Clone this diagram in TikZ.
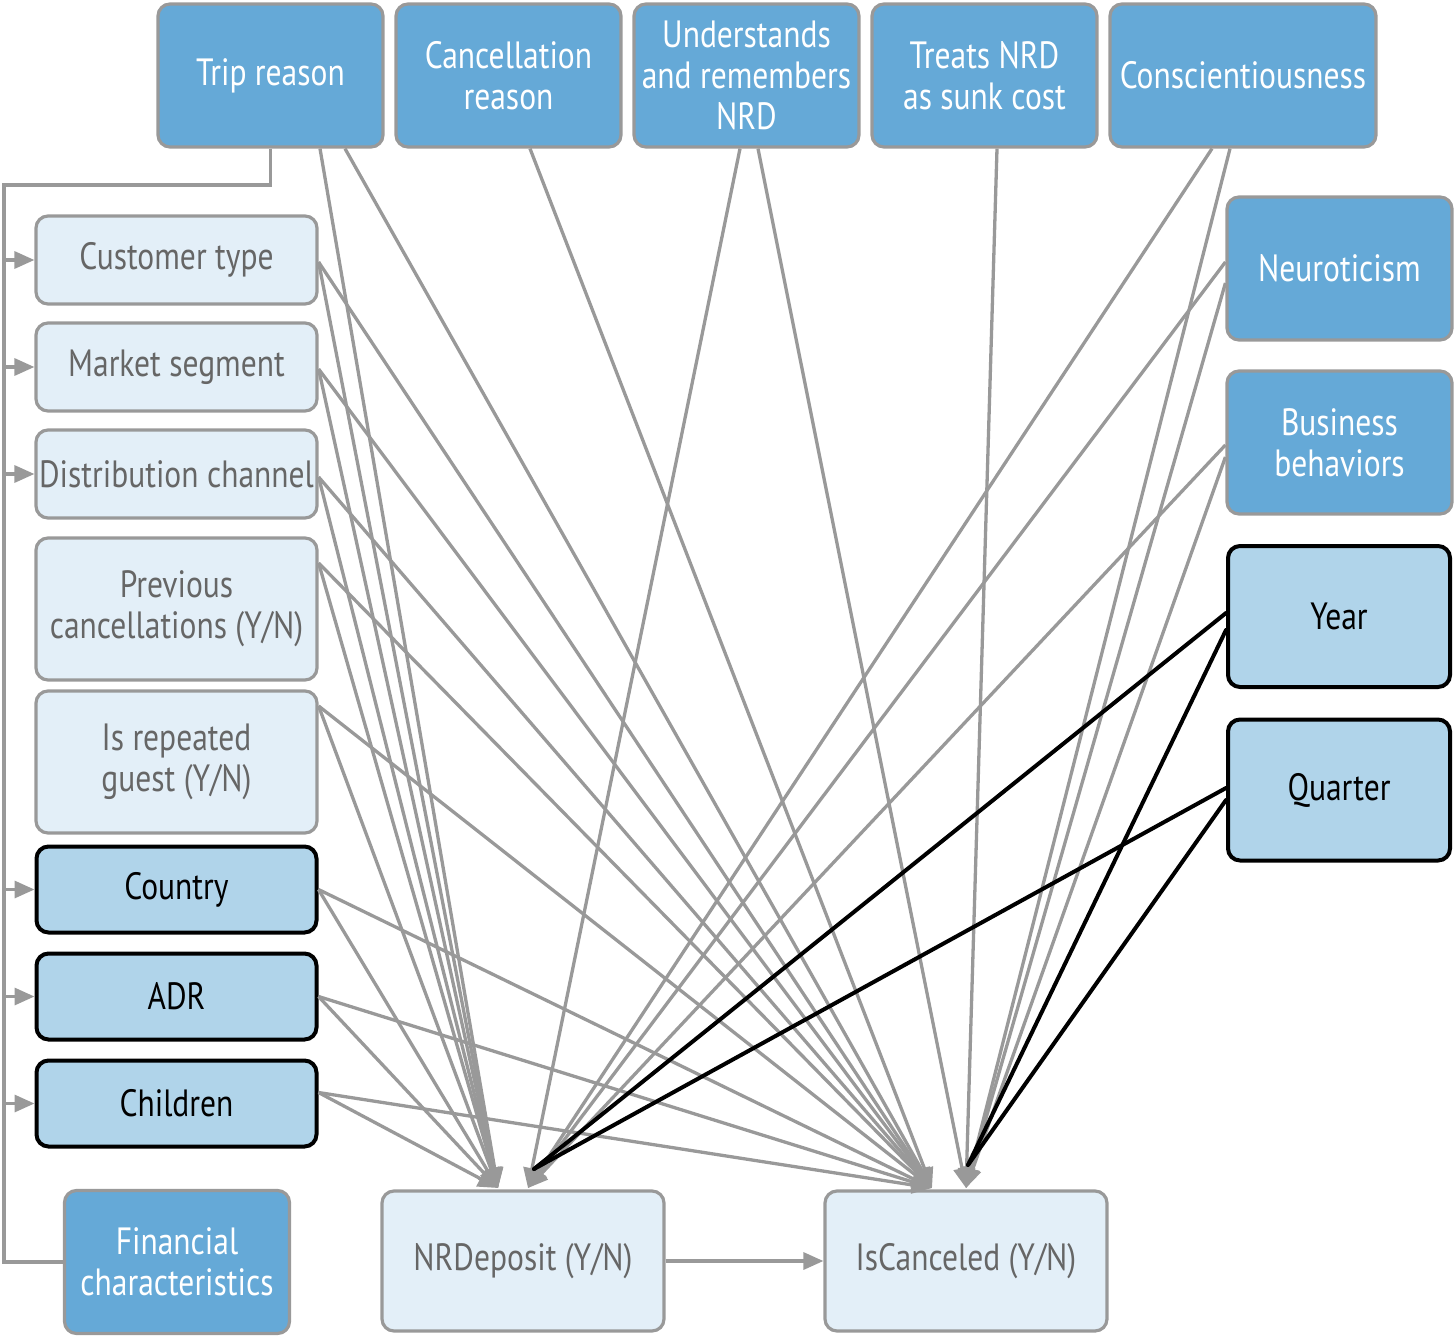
\documentclass[tikz,border=0pt]{standalone}
\usepackage{fontspec}
\setmainfont{PT Sans}[FakeStretch=0.83]
\usetikzlibrary{arrows.meta}
\definecolor{dblue}{HTML}{65A9D7}
\definecolor{lblue}{HTML}{B0D4EA}
\definecolor{pale}{HTML}{E3EFF8}
\definecolor{edgegray}{HTML}{999999}
\definecolor{txtgray}{HTML}{666666}
\begin{document}
\begin{tikzpicture}[x=1pt,y=-1pt,
  box/.style={rectangle, rounded corners=12pt, inner sep=0pt, align=center,
    font=\fontsize{38}{41}\selectfont},
  darkbox/.style={box, fill=dblue, draw=edgegray, line width=3.2pt, text=white},
  palebox/.style={box, fill=pale, draw=edgegray, line width=3.2pt, text=txtgray},
  keybox/.style={box, fill=lblue, draw=black, line width=4pt, text=black},
  topsz/.style={minimum width=225pt, minimum height=143pt},
  leftsz/.style={minimum width=281pt, minimum height=88pt},
  lefttall/.style={minimum width=281pt, minimum height=142pt},
  edge/.style={draw=edgegray, line width=3.3pt, -{Triangle[length=20pt,width=17pt]}},
  plain/.style={draw=edgegray, line width=3.3pt},
  blk/.style={draw=black, line width=4pt, line cap=round}
]
\useasboundingbox (0,0) rectangle (1455,1337);

% top row
\node[darkbox, topsz] (trip)  at (270.5,75.5) {Trip reason};
\node[darkbox, topsz] (canc)  at (508.5,75.5) {Cancellation\\reason};
\node[darkbox, topsz] (und)   at (746.5,75.5) {Understands\\and remembers\\NRD};
\node[darkbox, topsz] (treat) at (984.5,75.5) {Treats NRD\\as sunk cost};
\node[darkbox, minimum width=266pt, minimum height=143pt] (consc) at (1243,75.5) {Conscientiousness};

% right column
\node[darkbox, topsz] (neur)    at (1339.5,268.5) {Neuroticism};
\node[darkbox, topsz] (bus)     at (1339.5,442.5) {Business\\behaviors};
\node[keybox, minimum width=222pt, minimum height=141pt] (year)    at (1339,616.5) {Year};
\node[keybox, minimum width=222pt, minimum height=141pt] (quarter) at (1339,790) {Quarter};

% left column
\node[palebox, leftsz]   (cust)     at (176.5,260) {Customer type};
\node[palebox, leftsz]   (market)   at (176.5,367) {Market segment};
\node[palebox, leftsz]   (dist)     at (176.5,474) {Distribution channel};
\node[palebox, lefttall] (prev)     at (176.5,609) {Previous\\cancellations (Y/N)};
\node[palebox, lefttall] (rep)      at (176.5,762) {Is repeated\\guest (Y/N)};
\node[keybox, minimum width=280pt, minimum height=86pt] (country)  at (176.5,889.5) {Country};
\node[keybox, minimum width=280pt, minimum height=86pt] (adr)      at (176.5,996.5) {ADR};
\node[keybox, minimum width=280pt, minimum height=86pt] (children) at (176.5,1103.5) {Children};
\node[darkbox, topsz] (fin) at (177,1262) {Financial\\characteristics};

% outcomes
\node[palebox, minimum width=282pt, minimum height=140pt] (nrd) at (523,1261) {NRDeposit (Y/N)};
\node[palebox, minimum width=282pt, minimum height=140pt] (isc) at (966,1261) {IsCanceled (Y/N)};

% arrow tip points
\coordinate (nrdL) at (498,1188);
\coordinate (nrdR) at (528,1188);
\coordinate (iscL) at (932,1188);
\coordinate (iscR) at (966,1188);
\coordinate (nrdRb) at (534,1169);
\coordinate (iscRb) at (968,1165);
\coordinate (bx) at (4,185);

% bracket from Trip reason to Financial characteristics
\draw[plain] (trip.south) |- (bx) |- (fin.west);
\foreach \n in {cust,market,dist,country,adr,children}
  \draw[edge] (bx |- \n.west) -- (\n.west);

% left column edges
\foreach \n/\s in {cust/-2,market/-2,dist/-3,prev/46,rep/56,country/0,adr/0,children/11}{
  \draw[edge] ([yshift=\s pt]\n.east) -- (nrdL);
  \draw[edge] ([yshift=\s pt]\n.east) -- (iscL);
}

% top edges
\draw[edge] ([xshift=49.5pt]trip.south) -- (nrdL);
\draw[edge] ([xshift=74.5pt]trip.south) -- (iscL);
\draw[edge] ([xshift=21.5pt]canc.south) -- (iscL);
\draw[edge] ([xshift=-6.5pt]und.south) -- (nrdR);
\draw[edge] ([xshift=11.5pt]und.south) -- (iscR);
\draw[edge] ([xshift=12.5pt]treat.south) -- (iscR);
\draw[edge] ([xshift=-31pt]consc.south) -- (nrdR);
\draw[edge] ([xshift=-13pt]consc.south) -- (iscR);

% right edges
\draw[edge] ([yshift=6.5pt]neur.west) -- (nrdR);
\draw[edge] ([yshift=-14.5pt]neur.west) -- (iscR);
\draw[edge] ([yshift=-2.5pt]bus.west) -- (nrdR);
\draw[edge] ([yshift=-14.5pt]bus.west) -- (iscR);

% black edges
\draw[blk] ([yshift=3.5pt]year.west) -- (nrdRb);
\draw[blk] ([yshift=-13.5pt]year.west) -- (iscRb);
\draw[blk] ([yshift=2pt]quarter.west) -- (nrdRb);
\draw[blk] ([yshift=-10pt]quarter.west) -- (iscRb);

% NRDeposit -> IsCanceled
\draw[edge] (nrd.east) -- (isc.west);
\end{tikzpicture}
\end{document}
